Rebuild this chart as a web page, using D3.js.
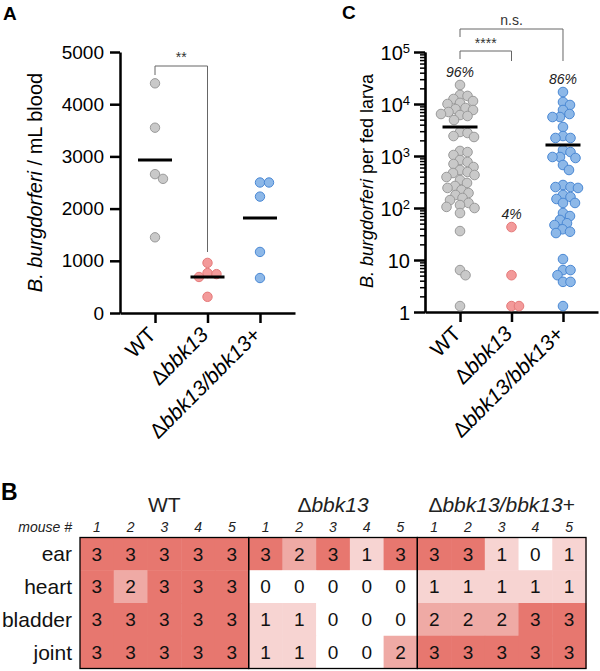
<!DOCTYPE html>
<html><head><meta charset="utf-8">
<script src="https://cdn.jsdelivr.net/npm/d3@7"></script>
<style>body{margin:0;background:#fff}svg{display:block;font-family:"Liberation Sans",Arial,Helvetica,sans-serif}</style>
</head><body><svg id="c" width="600" height="671"></svg>
<script>
// ---------- DATA ----------
const groups = ["WT", "Δbbk13", "Δbbk13/bbk13+"];

// Panel A: B. burgdorferi / mL blood
const bloodWT = [4400, 3550, 2660, 2570, 1450];
const bloodKO = [960, 765, 745, 690, 310];
const bloodComp = [2500, 2500, 2230, 1170, 670];
const bloodMeans = [2930, 690, 1820];
const bloodTicks = [0, 1000, 2000, 3000, 4000, 5000];
const bloodSig = "**";

// Panel C: B. burgdorferi per fed larva
const larvaWT = [23200, 14900, 14300, 12500, 11400, 10500, 10000, 8380, 8010, 7670, 7020, 6420, 6140, 5880, 4920,
  2900, 2770, 2420, 2320,
  1250, 1190, 1045, 838, 767, 702, 614, 538, 492, 471, 431, 394, 345, 303, 265, 243, 222, 194, 178, 156, 142, 125, 114, 105, 100, 80,
  36, 6.4, 5.1, 1.3];
const larvaKO = [43, 5.1, 1.3, 1.3];
const larvaComp = [17000, 10900, 9570, 7670, 6420, 5620, 5620, 3610, 2420, 2220, 2220,
  1300, 1190, 957, 957, 916, 671, 538,
  277, 253, 253, 243, 178, 163, 149, 125, 125, 80, 70, 59, 51, 47, 39, 35, 33,
  10.4, 6.4, 6.4, 5.1, 3.8, 3.8, 1.3];
const larvaMeans = [3600, null, 1630];
const larvaPct = ["96%", "4%", "86%"];
const larvaTicks = [1, 10, 100, 1000, 10000, 100000];
const larvaSig = ["****", "n.s."];

// Panel B: organ scores
const organs = ["ear", "heart", "bladder", "joint"];
const mice = ["1", "2", "3", "4", "5"];
const scoreWT = [[3,3,3,3,3],[3,2,3,3,3],[3,3,3,3,3],[3,3,3,3,3]];
const scoreKO = [[3,2,3,1,3],[0,0,0,0,0],[1,1,0,0,0],[1,1,0,0,2]];
const scoreComp = [[3,3,1,0,1],[1,1,1,1,1],[2,2,2,3,3],[3,3,3,3,3]];

// ---------- STYLE ----------
const FONT = '"Liberation Sans", Arial, Helvetica, sans-serif';
const fills = ["#c9c9c9", "#f39a9a", "#8db8e8"];
const strokes = ["#9a9a9a", "#e57a7a", "#4a88d4"];
const heatColor = d3.scaleOrdinal().domain([0,1,2,3]).range(["#ffffff", "#f7d4d2", "#efaaa5", "#e7776f"]);

const svg = d3.select("#c");

function richLabel(sel, name) {
  if (name === "WT") { sel.append("tspan").text("WT"); return; }
  sel.append("tspan").text("Δ");
  if (name.endsWith("+")) {
    sel.append("tspan").attr("font-style", "italic").text(name.slice(1, -1));
    sel.append("tspan").text("+");
  } else {
    sel.append("tspan").attr("font-style", "italic").text(name.slice(1));
  }
}

function swarm(vals, y, r, k) {
  const placed = [];
  const sorted = vals.slice().sort((a, b) => b - a);
  const minD = 2 * r * k;
  sorted.forEach(v => {
    const yy = y(v);
    let dx = 0;
    for (let i = 0; i < 400; i++) {
      const cand = i === 0 ? 0 : (i % 2 ? 1 : -1) * Math.ceil(i / 2) * 0.5;
      if (placed.every(p => (p.dx - cand) ** 2 + (p.y - yy) ** 2 >= minD * minD)) { dx = cand; break; }
    }
    placed.push({ v, y: yy, dx });
  });
  return placed;
}

function styleAxis(g, w) {
  g.select(".domain").attr("stroke", "#000").attr("stroke-width", w);
  g.selectAll(".tick line").attr("stroke", "#000").attr("stroke-width", w);
  g.selectAll("text").attr("fill", "#000").attr("font-family", FONT);
}

// ---------- PANEL A ----------
const gA = svg.append("g");
const xA = d3.scalePoint().domain(groups).range([120, 295]).padding(0.667);
const yA = d3.scaleLinear().domain([0, 5000]).range([313, 52]);

const yAxA = gA.append("g").attr("transform", "translate(120,0)")
  .call(d3.axisLeft(yA).tickValues(bloodTicks).tickFormat(d3.format("d")).tickSize(10).tickSizeOuter(0).tickPadding(6));
styleAxis(yAxA, 2.5);
yAxA.selectAll("text").attr("font-size", 19);

const xAxA = gA.append("g").attr("transform", "translate(0,313)")
  .call(d3.axisBottom(xA).tickSize(10).tickSizeOuter(0).tickFormat(""));
styleAxis(xAxA, 2.5);

groups.forEach((gname, i) => {
  const t = gA.append("text").attr("font-size", 21).attr("text-anchor", "end")
    .attr("transform", `translate(${xA(gname) + 2},336) rotate(-45)`);
  richLabel(t, gname);
});

const yLabA = gA.append("text").attr("font-size", 20).attr("text-anchor", "middle")
  .attr("transform", "translate(42,182.5) rotate(-90)");
yLabA.append("tspan").attr("font-style", "italic").text("B. burgdorferi");
yLabA.append("tspan").text(" / mL blood");

[bloodWT, bloodKO, bloodComp].forEach((vals, i) => {
  const pos = swarm(vals, yA, 4.7, 0.95);
  gA.append("g").selectAll("circle").data(pos).join("circle")
    .attr("cx", d => xA(groups[i]) + d.dx).attr("cy", d => d.y).attr("r", 4.7)
    .attr("fill", fills[i]).attr("stroke", strokes[i]).attr("stroke-width", 1);
  gA.append("line").attr("x1", xA(groups[i]) - 17).attr("x2", xA(groups[i]) + 17)
    .attr("y1", yA(bloodMeans[i])).attr("y2", yA(bloodMeans[i]))
    .attr("stroke", "#000").attr("stroke-width", 3);
});

gA.append("path").attr("fill", "none").attr("stroke", "#666").attr("stroke-width", 1)
  .attr("d", `M${xA(groups[0])},75V66H${xA(groups[1])}V252`);
gA.append("text").attr("x", (xA(groups[0]) + xA(groups[1])) / 2).attr("y", 62)
  .attr("text-anchor", "middle").attr("font-size", 14).attr("fill", "#333").text(bloodSig);

svg.append("text").attr("x", 3).attr("y", 20).attr("font-size", 19).attr("font-weight", "bold").text("A");

// ---------- PANEL C ----------
const gC = svg.append("g");
const xC = d3.scalePoint().domain(groups).range([425, 598]).padding(0.68);
const yC = d3.scaleLog().domain([1, 1e5]).range([312, 52]);

const minor = [];
for (let e = 0; e < 5; e++) for (let m = 2; m <= 9; m++) minor.push(m * Math.pow(10, e));
const minAx = gC.append("g").attr("transform", "translate(425,0)")
  .call(d3.axisLeft(yC).tickValues(minor).tickSize(5).tickSizeOuter(0).tickFormat(""));
styleAxis(minAx, 1.5);
const yAxC = gC.append("g").attr("transform", "translate(425,0)")
  .call(d3.axisLeft(yC).tickValues(larvaTicks).tickSize(11).tickSizeOuter(0).tickPadding(4).tickFormat(""));
styleAxis(yAxC, 2.5);
yAxC.selectAll(".tick").each(function (d) {
  const e = Math.round(Math.log10(d));
  const t = d3.select(this).append("text").attr("x", -15).attr("dy", "0.36em")
    .attr("text-anchor", "end").attr("font-size", 20).attr("font-family", FONT).attr("fill", "#000");
  if (e <= 1) t.text(String(d));
  else {
    t.append("tspan").text("10");
    t.append("tspan").attr("dy", "-0.55em").attr("font-size", 13).text(e);
  }
});

const xAxC = gC.append("g").attr("transform", "translate(0,312)")
  .call(d3.axisBottom(xC).tickSize(10).tickSizeOuter(0).tickFormat(""));
styleAxis(xAxC, 2.5);

groups.forEach((gname, i) => {
  const t = gC.append("text").attr("font-size", 21).attr("text-anchor", "end")
    .attr("transform", `translate(${xC(gname) + 2},335) rotate(-45)`);
  richLabel(t, gname);
});

const yLabC = gC.append("text").attr("font-size", 18).attr("text-anchor", "middle")
  .attr("transform", "translate(373,181) rotate(-90)");
yLabC.append("tspan").attr("font-style", "italic").text("B. burgdorferi");
yLabC.append("tspan").text(" per fed larva");

[larvaWT, larvaKO, larvaComp].forEach((vals, i) => {
  const pos = swarm(vals, yC, 4.8, 0.78);
  gC.append("g").selectAll("circle").data(pos).join("circle")
    .attr("cx", d => xC(groups[i]) + d.dx).attr("cy", d => d.y).attr("r", 4.8)
    .attr("fill", fills[i]).attr("stroke", strokes[i]).attr("stroke-width", 1);
  if (larvaMeans[i] != null) {
    gC.append("line").attr("x1", xC(groups[i]) - 17.5).attr("x2", xC(groups[i]) + 17.5)
      .attr("y1", yC(larvaMeans[i])).attr("y2", yC(larvaMeans[i]))
      .attr("stroke", "#000").attr("stroke-width", 3);
  }
  gC.append("text").attr("x", xC(groups[i])).attr("y", yC(d3.max(vals)) - 8)
    .attr("text-anchor", "middle").attr("font-size", 14).attr("font-style", "italic")
    .attr("fill", "#222").text(larvaPct[i]);
});

gC.append("path").attr("fill", "none").attr("stroke", "#666").attr("stroke-width", 1)
  .attr("d", `M${xC(groups[0])},59V51H${xC(groups[1])}V61`);
gC.append("text").attr("x", (xC(groups[0]) + xC(groups[1])) / 2).attr("y", 48)
  .attr("text-anchor", "middle").attr("font-size", 14).attr("fill", "#333").text(larvaSig[0]);
gC.append("path").attr("fill", "none").attr("stroke", "#666").attr("stroke-width", 1)
  .attr("d", `M${xC(groups[0])},37V29H${xC(groups[2])}V61`);
gC.append("text").attr("x", (xC(groups[0]) + xC(groups[2])) / 2).attr("y", 25)
  .attr("text-anchor", "middle").attr("font-size", 14).attr("fill", "#333").text(larvaSig[1]);

svg.append("text").attr("x", 342).attr("y", 19).attr("font-size", 19).attr("font-weight", "bold").text("C");

// ---------- PANEL B ----------
const gB = svg.append("g");
const scores = [scoreWT, scoreKO, scoreComp];
const colIdx = d3.range(groups.length * mice.length);
const xB = d3.scaleBand().domain(colIdx).range([80, 586]);
const yB = d3.scaleBand().domain(organs).range([537.5, 668.5]);

const cells = [];
scores.forEach((mat, gi) => mat.forEach((row, ri) => row.forEach((v, mi) => {
  cells.push({ col: gi * mice.length + mi, organ: organs[ri], v });
})));
gB.selectAll("rect.cell").data(cells).join("rect").attr("class", "cell")
  .attr("x", d => xB(d.col)).attr("y", d => yB(d.organ))
  .attr("width", xB.bandwidth() + 0.5).attr("height", yB.bandwidth() + 0.5)
  .attr("fill", d => heatColor(d.v));
gB.selectAll("text.val").data(cells).join("text").attr("class", "val")
  .attr("x", d => xB(d.col) + xB.bandwidth() / 2).attr("y", d => yB(d.organ) + yB.bandwidth() / 2)
  .attr("dy", "0.36em").attr("text-anchor", "middle").attr("font-size", 19).attr("fill", "#111")
  .text(d => d.v);

groups.forEach((gname, gi) => {
  const x0 = xB(gi * mice.length), x1 = xB(gi * mice.length + mice.length - 1) + xB.bandwidth();
  gB.append("rect").attr("x", x0).attr("y", yB.range()[0]).attr("width", x1 - x0)
    .attr("height", yB.range()[1] - yB.range()[0]).attr("fill", "none")
    .attr("stroke", "#000").attr("stroke-width", 1.3);
  const t = gB.append("text").attr("x", (x0 + x1) / 2).attr("y", 512).attr("text-anchor", "middle")
    .attr("font-size", 21).attr("fill", "#222");
  richLabel(t, gname);
  mice.forEach((m, mi) => {
    gB.append("text").attr("x", xB(gi * mice.length + mi) + xB.bandwidth() / 2).attr("y", 532)
      .attr("text-anchor", "middle").attr("font-size", 14).attr("font-style", "italic")
      .attr("fill", "#222").text(m);
  });
});
gB.append("text").attr("x", 72).attr("y", 532).attr("text-anchor", "end")
  .attr("font-size", 14).attr("font-style", "italic").attr("fill", "#222").text("mouse #");
organs.forEach(o => {
  gB.append("text").attr("x", 72).attr("y", yB(o) + yB.bandwidth() / 2).attr("dy", "0.36em")
    .attr("text-anchor", "end").attr("font-size", 21).attr("fill", "#111").text(o);
});
svg.append("text").attr("x", 1).attr("y", 500).attr("font-size", 23).attr("font-weight", "bold").text("B");
</script></body></html>
